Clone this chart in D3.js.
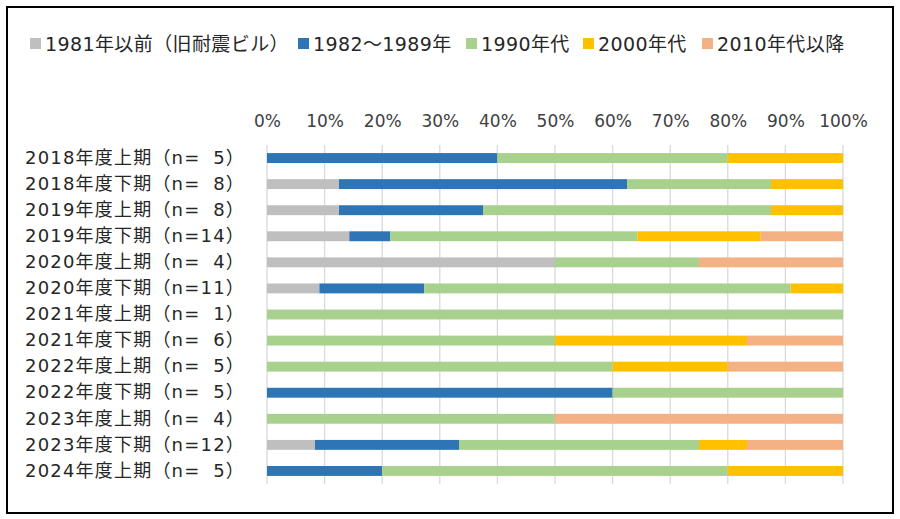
<!DOCTYPE html>
<html><head><meta charset="utf-8">
<script src="https://cdn.jsdelivr.net/npm/d3@7"></script>
<style>body{margin:0;background:#fff;}svg{display:block;font-family:"DejaVu Sans","Noto Sans CJK JP",sans-serif;}</style>
</head><body><svg id="c" width="900" height="519"></svg>
<script>
const categories = ["2018年度上期（n=\u20075）","2018年度下期（n=\u20078）","2019年度上期（n=\u20078）","2019年度下期（n=14）","2020年度上期（n=\u20074）","2020年度下期（n=11）","2021年度上期（n=\u20071）","2021年度下期（n=\u20076）","2022年度上期（n=\u20075）","2022年度下期（n=\u20075）","2023年度上期（n=\u20074）","2023年度下期（n=12）","2024年度上期（n=\u20075）"];
const seriesNames = ["1981年以前（旧耐震ビル）","1982～1989年","1990年代","2000年代","2010年代以降"];
const colors = ["#bfbfbf","#2e75b6","#a9d18e","#ffc000","#f4b183"];
const s1981 = [0,1,1,2,2,1,0,0,0,0,0,1,0];
const s1982 = [2,4,2,1,0,2,0,0,0,3,0,3,1];
const s1990 = [2,2,4,6,1,7,1,3,3,2,2,5,3];
const s2000 = [1,1,1,3,0,1,0,2,1,0,0,1,1];
const s2010 = [0,0,0,2,1,0,0,1,1,0,2,2,0];
const tickValues = [0,0.1,0.2,0.3,0.4,0.5,0.6,0.7,0.8,0.9,1.0];

const svgEl = d3.select("#c");
svgEl.append("rect").attr("x",7).attr("y",7).attr("width",886).attr("height",506)
  .attr("fill","#fff").attr("stroke","#000").attr("stroke-width",2);

const rows = categories.map((c,i)=>{
  const vals=[s1981[i],s1982[i],s1990[i],s2000[i],s2010[i]];
  const tot=d3.sum(vals);
  const r={cat:c};
  seriesNames.forEach((k,j)=>r[k]=vals[j]/tot);
  return r;
});
const stack = d3.stack().keys(seriesNames)(rows);

const x = d3.scaleLinear().domain([0,1]).range([267,843]);
const y = d3.scaleBand().domain(categories).range([145,484]).paddingInner(0.62).paddingOuter(0.31);

svgEl.append("g").selectAll("line").data(tickValues).join("line")
  .attr("x1",d=>x(d)).attr("x2",d=>x(d)).attr("y1",145).attr("y2",484)
  .attr("stroke","#d9d9d9").attr("stroke-width",1.3);

svgEl.append("g").selectAll("g").data(stack).join("g")
  .attr("fill",(d,i)=>colors[i])
  .selectAll("rect").data(d=>d).join("rect")
  .attr("x",d=>x(d[0])).attr("width",d=>x(d[1])-x(d[0]))
  .attr("y",d=>y(d.data.cat)).attr("height",y.bandwidth());

const ff = "\"DejaVu Sans\",\"Noto Sans CJK JP\",sans-serif";
const xAxis = d3.axisTop(x).tickValues(tickValues).tickFormat(d3.format(".0%")).tickSize(0).tickPadding(0);
const gx = svgEl.append("g").attr("transform","translate(0,127)").call(xAxis);
gx.select(".domain").remove();
gx.selectAll("text").attr("font-size",17).attr("fill","#404040").attr("font-family",ff);

const yAxis = d3.axisLeft(y).tickSize(0).tickPadding(0);
const gy = svgEl.append("g").attr("transform","translate(245,0)").call(yAxis);
gy.select(".domain").remove();
gy.selectAll("text").attr("font-size",18).attr("fill","#262626").attr("font-family",ff).attr("letter-spacing",1.2);

const legX = [30,298,466,583,702];
const leg = svgEl.append("g").selectAll("g").data(seriesNames).join("g")
  .attr("transform",(d,i)=>`translate(${legX[i]},44)`);
leg.append("rect").attr("x",0).attr("y",-6).attr("width",11).attr("height",11).attr("fill",(d,i)=>colors[i]);
leg.append("text").attr("x",15).attr("y",0).attr("dy","0.35em").attr("font-size",19).attr("letter-spacing",0.4).attr("fill","#262626").attr("font-family",ff).text(d=>d);
</script></body></html>
